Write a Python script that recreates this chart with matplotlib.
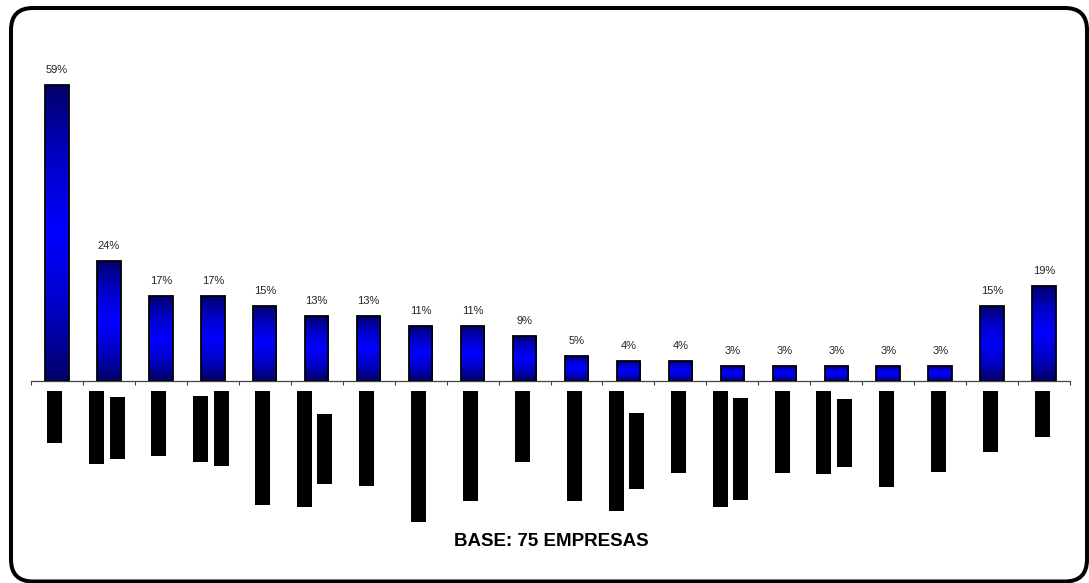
import matplotlib
matplotlib.use("Agg")
import matplotlib.pyplot as plt
import numpy as np
from matplotlib.patches import FancyBboxPatch, Rectangle
from matplotlib.colors import LinearSegmentedColormap

# Share of companies per item (%)
values = [59, 24, 17, 17, 15, 13, 13, 11, 11, 9, 5, 4, 4, 3, 3, 3, 3, 3, 15, 19]
value_labels = [f"{v}%" for v in values]

# Category captions appear as solid black rotated blocks; one entry per text line,
# each giving the line's length in pixels
caption_lines = [
    [52], [73, 62], [65], [66, 75], [114], [116, 70], [95], [131], [110], [71],
    [110], [120, 76], [82], [116, 102], [82], [83, 68], [96], [81], [61], [46],
]
footer = "BASE: 75 EMPRESAS"

W, H, DPI = 1089, 583, 100
fig = plt.figure(figsize=(W / DPI, H / DPI), dpi=DPI)
fig.patch.set_facecolor("white")

# rounded outer frame (in inches, so corners stay circular)
frame = FancyBboxPatch((11 / DPI, 1.5 / DPI), (1087 - 11) / DPI, (575 - 1.5) / DPI,
                       boxstyle="round,pad=0,rounding_size=0.22",
                       transform=fig.dpi_scale_trans, facecolor="none",
                       edgecolor="black", linewidth=2.9, zorder=5)
fig.patches.append(frame)

ax_left, ax_right, ax_base, ax_top = 31, 1070, 381, 40
ax = fig.add_axes([ax_left / W, (H - ax_base) / H,
                   (ax_right - ax_left) / W, (ax_base - ax_top) / H])
ax.set_facecolor("none")
n = len(values)
x = np.arange(n)
ax.set_xlim(-0.5, n - 0.5)
ax.set_ylim(0, 68)

px_x = n / (ax_right - ax_left)          # data units per pixel (x)
px_y = 68 / (ax_base - ax_top)           # data units per pixel (y)

grad_cmap = LinearSegmentedColormap.from_list(
    "bar_grad", ["#000068", "#0000c8", "#0000ff", "#0000c8", "#000068"])
grad = np.linspace(0, 1, 256).reshape(-1, 1)

bar_w = 0.45
bars = ax.bar(x, values, width=bar_w, facecolor="none", edgecolor="black",
              linewidth=1.3, zorder=3)
for b in bars:
    x0, w, h = b.get_x(), b.get_width(), b.get_height()
    im = ax.imshow(grad, cmap=grad_cmap, aspect="auto",
                   extent=(x0, x0 + w, 0, h), zorder=2, interpolation="bicubic")
    im.set_clip_path(b)
ax.set_xlim(-0.5, n - 0.5)
ax.set_ylim(0, 68)

for xi, v, lab in zip(x, values, value_labels):
    ax.annotate(lab, (xi, v), xytext=(0, 8.6), textcoords="offset points",
                ha="center", va="baseline", fontsize=8,
                family="Liberation Sans", color="#222222")

# caption blocks below the baseline
line_w = 15 * px_x
line_gap = 20.5 * px_x
top_y = -10 * px_y
for xi, lines in zip(x, caption_lines):
    k = len(lines)
    longest = max(lines)
    center_y = top_y - longest * px_y / 2
    cx0 = xi - 2 * px_x - (k - 1) * line_gap / 2
    for j, L in enumerate(lines):
        cx = cx0 + j * line_gap
        h = L * px_y
        ax.add_patch(Rectangle((cx - line_w / 2, center_y - h / 2), line_w, h,
                               facecolor="black", edgecolor="none",
                               clip_on=False, zorder=3))

for s in ["top", "right", "left"]:
    ax.spines[s].set_visible(False)
ax.spines["bottom"].set_color("#444444")
ax.spines["bottom"].set_linewidth(0.9)
ax.set_yticks([])
ax.set_xticks(np.arange(n + 1) - 0.5)
ax.set_xticklabels([])
ax.tick_params(axis="x", direction="out", length=3, width=0.8, color="#444444")

fig.text(551 / W, (H - 542) / H, footer, ha="center", va="center",
         fontsize=13.5, fontweight="bold", family="Liberation Sans", color="black")

fig.savefig("out.png", dpi=DPI)
